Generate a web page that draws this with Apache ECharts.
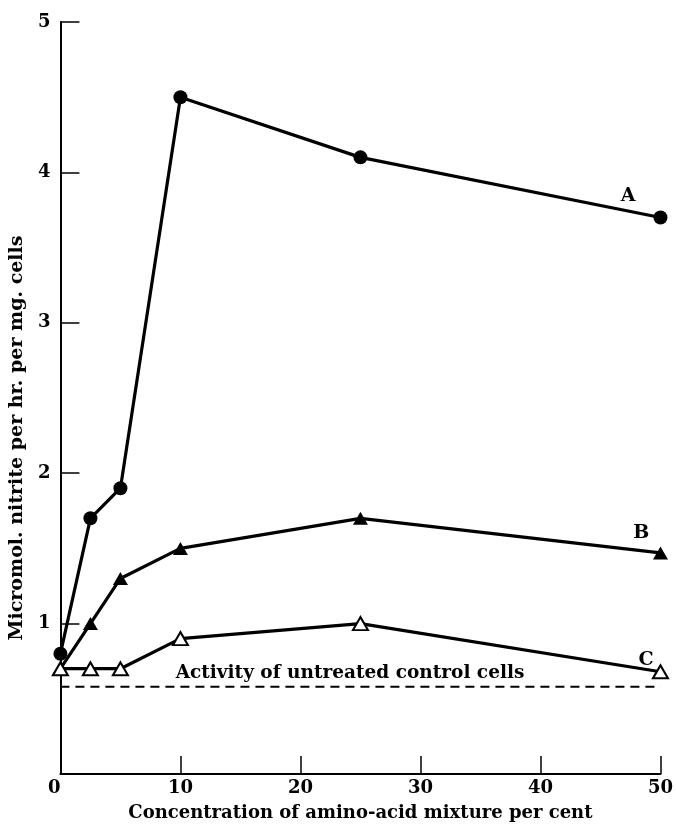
<!DOCTYPE html>
<html>
<head>
<meta charset="utf-8">
<script src="https://cdn.jsdelivr.net/npm/echarts@6/dist/echarts.min.js"></script>
<style>html,body{margin:0;padding:0;background:#fff}#c{width:676px;height:827px}</style>
</head>
<body>
<div id="c"></div>
<script>
const xA = [0, 2.5, 5, 10, 25, 50];
const seriesA = [0.8, 1.7, 1.9, 4.5, 4.1, 3.7];
const xB = [0, 2.5, 5, 10, 25, 50];
const seriesB = [0.7, 1.0, 1.3, 1.5, 1.7, 1.47];
const xC = [0, 2.5, 5, 10, 25, 50];
const seriesC = [0.7, 0.7, 0.7, 0.9, 1.0, 0.68];
const controlX = [0, 50];
const controlY = [0.58, 0.58];
const xTicks = [0, 10, 20, 30, 40, 50];
const yTicks = [1, 2, 3, 4, 5];
const curveLabels = ['A', 'B', 'C'];
const curveLabelX = [47.3, 48.4, 48.8];
const curveLabelY = [3.84, 1.6, 0.76];
const controlText = 'Activity of untreated control cells';
const controlTextPos = [9.6, 0.67];
const xTitle = 'Concentration of amino-acid mixture per cent';
const yTitle = 'Micromol. nitrite per hr. per mg. cells';

const FONT = 'DejaVu Serif';
const pair = (xs, ys) => xs.map((x, i) => [x, ys[i]]);
const triUp = 'path://M0,10L5,0L10,10Z';

const chart = echarts.init(document.getElementById('c'), null, {renderer: 'canvas'});
chart.setOption({
  animation: false,
  backgroundColor: '#fff',
  grid: {left: 57, right: 13, top: 22, bottom: 52, containLabel: false},
  xAxis: {
    type: 'value', min: 0, max: 50, interval: 10,
    name: xTitle, nameLocation: 'middle', nameGap: 30,
    nameTextStyle: {fontFamily: FONT, fontWeight: 'bold', fontSize: 18, color: '#000'},
    axisLine: {show: true, lineStyle: {color: '#000', width: 2}},
    axisTick: {show: true, inside: true, length: 18, lineStyle: {color: '#000', width: 1.5}},
    axisLabel: {fontFamily: FONT, fontWeight: 'bold', fontSize: 18, color: '#000', margin: 5,
      alignMinLabel: 'right',
      formatter: v => xTicks.includes(v) ? String(v) : ''},
    splitLine: {show: false}
  },
  yAxis: {
    type: 'value', min: 0, max: 5, interval: 1,
    name: yTitle, nameLocation: 'middle', nameGap: 32,
    nameTextStyle: {fontFamily: FONT, fontWeight: 'bold', fontSize: 19, color: '#000', padding: [0, 80, 0, 0]},
    axisLine: {show: true, lineStyle: {color: '#000', width: 2}},
    axisTick: {show: true, inside: true, length: 19, lineStyle: {color: '#000', width: 1.5}},
    axisLabel: {fontFamily: FONT, fontWeight: 'bold', fontSize: 18, color: '#000', margin: 10,
      showMinLabel: false,
      formatter: v => yTicks.includes(v) ? String(v) : ''},
    splitLine: {show: false}
  },
  series: [
    {
      name: 'control', type: 'line', data: pair(controlX, controlY), symbol: 'none',
      lineStyle: {color: '#000', width: 2, type: [9, 6]}, z: 1
    },
    {
      name: 'B', type: 'line', data: pair(xB, seriesB), symbol: triUp, symbolSize: [15, 13],
      itemStyle: {color: '#000'}, lineStyle: {color: '#000', width: 3.2}, z: 2
    },
    {
      name: 'C', type: 'line', data: pair(xC, seriesC), symbol: triUp, symbolSize: [15, 13],
      itemStyle: {color: '#fff', borderColor: '#000', borderWidth: 2}, lineStyle: {color: '#000', width: 3.2}, z: 3
    },
    {
      name: 'A', type: 'line', data: pair(xA, seriesA), symbol: 'circle', symbolSize: 14,
      itemStyle: {color: '#000'}, lineStyle: {color: '#000', width: 3.2}, z: 4
    },
    {
      name: 'labels', type: 'scatter', symbolSize: 0, silent: true,
      itemStyle: {opacity: 1},
      data: curveLabels.map((t, i) => ({value: [curveLabelX[i], curveLabelY[i]], name: t})),
      label: {show: true, position: 'inside', formatter: p => p.name, opacity: 1,
        fontFamily: FONT, fontWeight: 'bold', fontSize: 19, color: '#000'}
    },
    {
      name: 'controlText', type: 'scatter', symbolSize: 0, silent: true,
      itemStyle: {opacity: 1},
      data: [{value: controlTextPos, name: controlText}],
      label: {show: true, position: 'right', distance: 0, formatter: p => p.name, opacity: 1,
        fontFamily: FONT, fontWeight: 'bold', fontSize: 18.5, color: '#000'}
    }
  ]
});
</script>
</body>
</html>
